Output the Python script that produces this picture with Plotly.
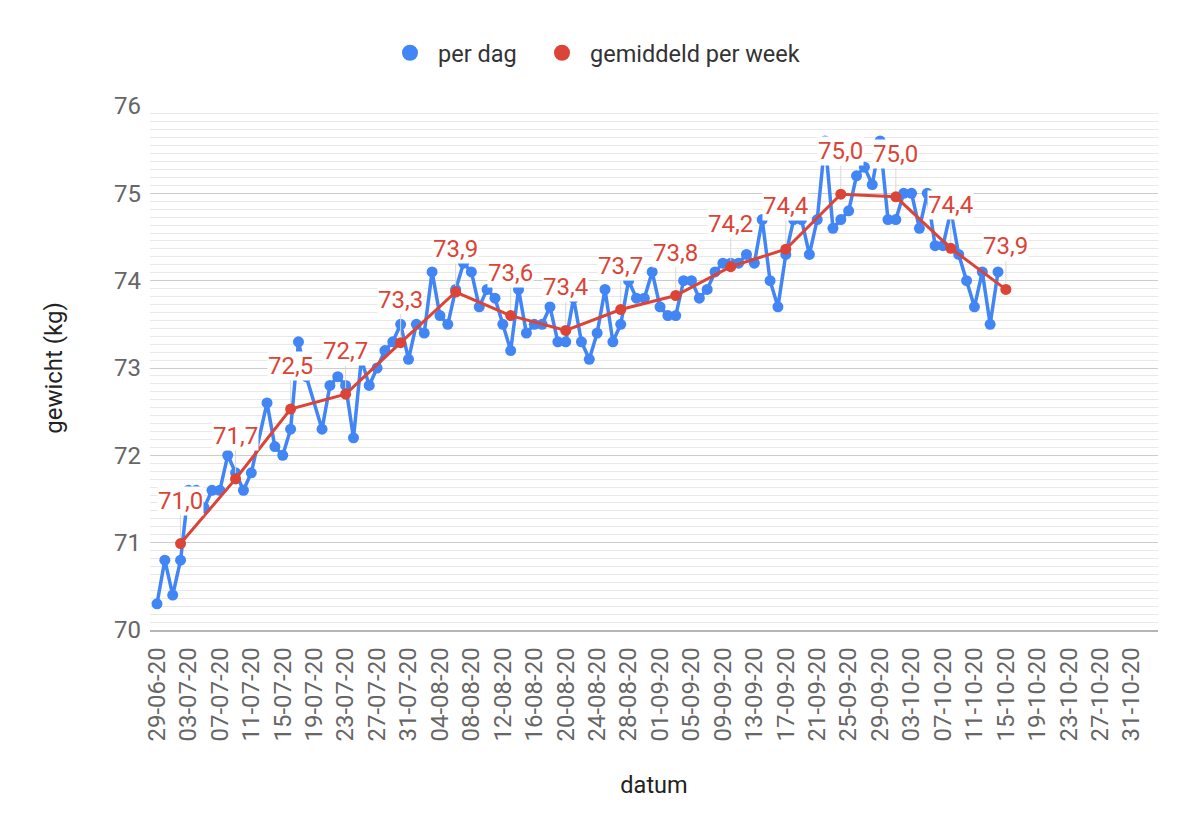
import plotly.graph_objects as go

# ---------------- data ----------------
daily_dates = [
    "2020-06-29", "2020-06-30", "2020-07-01", "2020-07-02", "2020-07-03", "2020-07-04",
    "2020-07-05", "2020-07-06", "2020-07-07", "2020-07-08", "2020-07-09", "2020-07-10",
    "2020-07-11", "2020-07-13", "2020-07-14", "2020-07-15", "2020-07-16", "2020-07-17",
    "2020-07-18", "2020-07-20", "2020-07-21", "2020-07-22", "2020-07-23", "2020-07-24",
    "2020-07-25", "2020-07-26", "2020-07-27", "2020-07-28", "2020-07-29", "2020-07-30",
    "2020-07-31", "2020-08-01", "2020-08-02", "2020-08-03", "2020-08-04", "2020-08-05",
    "2020-08-06", "2020-08-07", "2020-08-08", "2020-08-09", "2020-08-10", "2020-08-11",
    "2020-08-12", "2020-08-13", "2020-08-14", "2020-08-15", "2020-08-16", "2020-08-17",
    "2020-08-18", "2020-08-19", "2020-08-20", "2020-08-21", "2020-08-22", "2020-08-23",
    "2020-08-24", "2020-08-25", "2020-08-26", "2020-08-27", "2020-08-28", "2020-08-29",
    "2020-08-30", "2020-08-31", "2020-09-01", "2020-09-02", "2020-09-03", "2020-09-04",
    "2020-09-05", "2020-09-06", "2020-09-07", "2020-09-08", "2020-09-09", "2020-09-10",
    "2020-09-11", "2020-09-12", "2020-09-13", "2020-09-14", "2020-09-15", "2020-09-16",
    "2020-09-17", "2020-09-18", "2020-09-19", "2020-09-20", "2020-09-21", "2020-09-22",
    "2020-09-23", "2020-09-24", "2020-09-25", "2020-09-26", "2020-09-27", "2020-09-28",
    "2020-09-29", "2020-09-30", "2020-10-01", "2020-10-02", "2020-10-03", "2020-10-04",
    "2020-10-05", "2020-10-06", "2020-10-07", "2020-10-08", "2020-10-09", "2020-10-10",
    "2020-10-11", "2020-10-12", "2020-10-13", "2020-10-14",
]
daily_weight = [
    70.3, 70.8, 70.4, 70.8, 71.6, 71.6,
    71.4, 71.6, 71.6, 72.0, 71.8, 71.6,
    71.8, 72.6, 72.1, 72.0, 72.3, 73.3,
    72.9, 72.3, 72.8, 72.9, 72.8, 72.2,
    73.1, 72.8, 73.0, 73.2, 73.3, 73.5,
    73.1, 73.5, 73.4, 74.1, 73.6, 73.5,
    73.9, 74.2, 74.1, 73.7, 73.9, 73.8,
    73.5, 73.2, 73.9, 73.4, 73.5, 73.5,
    73.7, 73.3, 73.3, 73.8, 73.3, 73.1,
    73.4, 73.9, 73.3, 73.5, 74.0, 73.8,
    73.8, 74.1, 73.7, 73.6, 73.6, 74.0,
    74.0, 73.8, 73.9, 74.1, 74.2, 74.2,
    74.2, 74.3, 74.2, 74.7, 74.0, 73.7,
    74.3, 74.7, 74.7, 74.3, 74.7, 75.6,
    74.6, 74.7, 74.8, 75.2, 75.3, 75.1,
    75.6, 74.7, 74.7, 75.0, 75.0, 74.6,
    75.0, 74.4, 74.4, 74.8, 74.3, 74.0,
    73.7, 74.1, 73.5, 74.1,
]

week_dates = [
    "2020-07-02", "2020-07-09", "2020-07-16", "2020-07-23", "2020-07-30", "2020-08-06",
    "2020-08-13", "2020-08-20", "2020-08-27", "2020-09-03", "2020-09-10", "2020-09-17",
    "2020-09-24", "2020-10-01", "2020-10-08", "2020-10-15",
]
week_weight = [
    70.99, 71.73, 72.53, 72.70, 73.29, 73.87,
    73.60, 73.43, 73.67, 73.83, 74.16, 74.36,
    74.99, 74.96, 74.37, 73.90,
]

series_names = ["per dag", "gemiddeld per week"]
x_title = "datum"
y_title = "gewicht (kg)"

BLUE = "#4285f4"
RED = "#db4437"
FONT = "Roboto"

fig = go.Figure()

fig.add_trace(go.Scatter(
    x=daily_dates, y=daily_weight, mode="lines+markers", name=series_names[0],
    line=dict(color=BLUE, width=3.5), marker=dict(size=11, color=BLUE),
    showlegend=False,
))
fig.add_trace(go.Scatter(
    x=week_dates, y=week_weight, mode="lines+markers", name=series_names[1],
    line=dict(color=RED, width=3), marker=dict(size=11, color=RED),
    showlegend=False,
))
# legend entries (circle only)
fig.add_trace(go.Scatter(x=[None], y=[None], mode="markers", name=series_names[0],
                         marker=dict(size=20, color=BLUE), legend="legend"))
fig.add_trace(go.Scatter(x=[None], y=[None], mode="markers", name=series_names[1],
                         marker=dict(size=20, color=RED), legend="legend2"))

for d, v in zip(week_dates, week_weight):
    fig.add_annotation(
        x=d, y=v, text=f"{v:.1f}".replace(".", ","),
        showarrow=True, arrowhead=0, arrowwidth=1, arrowcolor="#d9d9d9",
        ax=0, ay=-43, standoff=6,
        bgcolor="white", borderpad=0,
        font=dict(family=FONT, size=24, color=RED),
    )

legend_common = dict(
    orientation="h", xref="container", yref="container",
    xanchor="left", y=1 - 45 / 838, yanchor="middle",
    font=dict(family=FONT, size=23.5, color="#333"),
    itemsizing="trace", itemwidth=46,
)

fig.update_layout(
    width=1200, height=838,
    margin=dict(l=142, r=50, t=98, b=216),
    paper_bgcolor="white", plot_bgcolor="white",
    font=dict(family=FONT, color="#444"),
    legend=dict(x=374 / 1200, **legend_common),
    legend2=dict(x=526 / 1200, **legend_common),
)

fig.update_xaxes(
    type="date",
    range=["2020-06-28 02:40", "2020-11-03 08:30"],
    tick0="2020-06-29", dtick=4 * 86400000,
    tickformat="%d-%m-%y", tickangle=-90,
    tickfont=dict(family=FONT, size=24, color="#666"),
    showgrid=False, zeroline=False,
    showline=True, linecolor="#b5b5b5", linewidth=1.5,
    ticks="", ticklabelstandoff=6,
    title=dict(text=x_title, font=dict(family=FONT, size=23.5, color="#222"), standoff=36),
)
fig.update_yaxes(
    range=[70, 76], dtick=1, tick0=70,
    tickfont=dict(family=FONT, size=24, color="#666"),
    showgrid=True, gridcolor="#cccccc", gridwidth=1,
    zeroline=False, showline=False, ticks="", ticklabelstandoff=8,
    minor=dict(dtick=1 / 11, tick0=70, showgrid=True, gridcolor="#e8e8e8", gridwidth=1),
    title=dict(text=y_title, font=dict(family=FONT, size=24, color="#222"), standoff=44),
)

fig.write_html("out.html")
